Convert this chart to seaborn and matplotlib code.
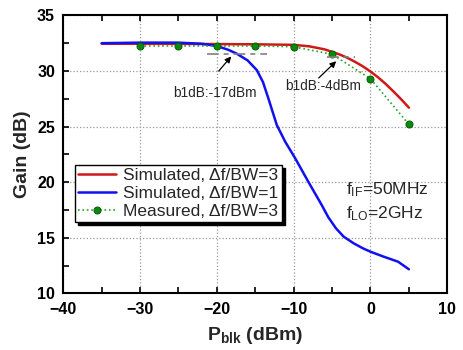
import numpy as np
import seaborn as sns
import matplotlib.pyplot as plt
from matplotlib.ticker import MultipleLocator

# simulated, df/BW=3
sim3_x = [-35, -30, -25, -20, -15, -10, -8, -6, -5, -4, -3, -2, -1, 0, 1, 2, 3, 4, 5]
sim3_y = [32.45, 32.45, 32.44, 32.42, 32.4, 32.35, 32.22, 31.95, 31.72, 31.48,
          31.18, 30.82, 30.42, 29.95, 29.42, 28.82, 28.15, 27.45, 26.7]

# simulated, df/BW=1
sim1_x = [-35, -30, -25, -22, -20, -18.5, -17.4, -16, -14.8, -14, -13.3, -12.2,
          -11.1, -9.8, -8.1, -6.35, -5.5, -4.5, -3.5, -2.2, -1, 0, 1.7, 3.6, 5]
sim1_y = [32.5, 32.55, 32.55, 32.45, 32.25, 31.9, 31.55, 30.95, 30.08, 29.0,
          27.54, 25.14, 23.63, 22.14, 20.04, 17.94, 16.85, 15.85, 15.1, 14.5,
          14.05, 13.74, 13.3, 12.84, 12.16]

# measured, df/BW=3
meas_x = [-30, -25, -20, -15, -10, -5, 0, 5]
meas_y = [32.25, 32.25, 32.25, 32.25, 32.18, 31.5, 29.3, 25.2]

sns.set_style("white")
plt.rcParams['font.family'] = ['Liberation Sans', 'DejaVu Sans']
plt.rcParams['mathtext.fontset'] = 'custom'
plt.rcParams['mathtext.rm'] = 'Liberation Sans'
plt.rcParams['mathtext.it'] = 'Liberation Sans:italic'
plt.rcParams['mathtext.bf'] = 'Liberation Sans:bold'

fig = plt.figure(figsize=(4.64, 3.5), dpi=100)
ax = fig.add_axes([0.1364, 0.162, 0.8276, 0.794])

sns.lineplot(x=sim3_x, y=sim3_y, ax=ax, color='#d01818', lw=1.8,
             label='Simulated, \u0394f/BW=3')
sns.lineplot(x=sim1_x, y=sim1_y, ax=ax, color='#1010f0', lw=1.8,
             label='Simulated, \u0394f/BW=1')
sns.lineplot(x=meas_x, y=meas_y, ax=ax, color='#2ca02c', lw=1.2,
             linestyle=':', marker='o', markersize=5,
             markerfacecolor='#0a8a0a', markeredgecolor='#066006',
             label='Measured, \u0394f/BW=3')

# 1dB compression markers
ax.plot([-21.3, -13.5], [31.55, 31.55], color='gray', lw=1.2,
        linestyle=(0, (7, 3, 3, 3)))
ax.plot([-5.7, -2.0], [31.28, 31.28], color='gray', lw=1.2,
        linestyle=(0, (7, 3, 3, 3)))
ax.annotate('', xy=(-17.9, 31.5), xytext=(-20.0, 29.8),
            arrowprops=dict(arrowstyle='-|>', color='black', lw=0.9,
                            mutation_scale=9))
ax.annotate('', xy=(-4.2, 31.05), xytext=(-7.0, 29.2),
            arrowprops=dict(arrowstyle='-|>', color='black', lw=0.9,
                            mutation_scale=9))
ax.text(-20.3, 28.05, 'b1dB:-17dBm', fontsize=9.8, ha='center', va='center')
ax.text(-6.2, 28.65, 'b1dB:-4dBm', fontsize=9.8, ha='center', va='center')

ax.text(-3.2, 19.3, r'f$_{\mathrm{IF}}$=50MHz', fontsize=12.5, va='center')
ax.text(-3.2, 17.2, r'f$_{\mathrm{LO}}$=2GHz', fontsize=12.5, va='center')

ax.set_xlim(-40, 10)
ax.set_ylim(10, 35)
ax.xaxis.set_major_locator(MultipleLocator(10))
ax.xaxis.set_minor_locator(MultipleLocator(5))
ax.yaxis.set_major_locator(MultipleLocator(5))
ax.yaxis.set_minor_locator(MultipleLocator(2.5))
ax.grid(True, which='major', linestyle=':', color='#999999', lw=0.9)
ax.tick_params(which='both', direction='in', top=True, right=False,
               bottom=True, left=True, length=4, width=1.2, colors='black')
ax.tick_params(which='major', pad=6, labelsize=11.5)
for lab in ax.get_xticklabels() + ax.get_yticklabels():
    lab.set_fontweight('bold')
for s in ax.spines.values():
    s.set_linewidth(1.5)
    s.set_color('black')

ax.set_xlabel(r'P$_{\mathbf{blk}}$ (dBm)', fontsize=14, fontweight='bold', labelpad=6)
ax.set_ylabel('Gain (dB)', fontsize=14, fontweight='bold', labelpad=4)

leg = ax.legend(loc='lower left', bbox_to_anchor=(0.03, 0.255), fontsize=12.5,
                frameon=True, fancybox=False, edgecolor='black',
                shadow={'color': 'black', 'alpha': 1},
                handlelength=2.2, handletextpad=0.4, borderpad=0.2,
                labelspacing=0.15, borderaxespad=0)
leg.get_frame().set_linewidth(1.0)

fig.savefig('out.png', dpi=100)
